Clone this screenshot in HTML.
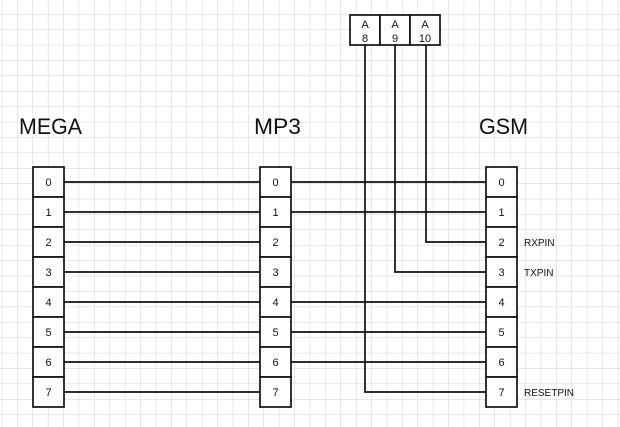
<!DOCTYPE html>
<html><head><meta charset="utf-8"><style>
html,body{margin:0;padding:0;background:#fff;}
svg{display:block;}
text{font-family:"Liberation Sans",sans-serif;fill:#111;}
</style></head><body>
<svg width="620" height="427" viewBox="0 0 620 427" xmlns="http://www.w3.org/2000/svg">
<defs>
<pattern id="g" x="1.7" y="-1.4" width="15.4" height="15.4" patternUnits="userSpaceOnUse">
<path d="M0 0V15.4M0 0H15.4" stroke="#d2d2d2" stroke-width="1" fill="none"/>
</pattern>
</defs>
<rect width="620" height="427" fill="url(#g)"/>
<g font-size="22">
<text x="19" y="134" textLength="63" lengthAdjust="spacingAndGlyphs">MEGA</text>
<text x="254" y="134" textLength="47" lengthAdjust="spacingAndGlyphs">MP3</text>
<text x="479" y="134" textLength="49" lengthAdjust="spacingAndGlyphs">GSM</text>
</g>
<g stroke="#111" stroke-width="1.7" fill="none">
<path d="M64 182H260M64 212H260M64 242H260M64 272H260M64 302H260M64 332H260M64 362H260M64 392H260"/>
<path d="M291 182H486M291 212H486M291 302H486M291 332H486M291 362H486"/>
<path d="M365 45V392H486M395 45V272H486M426 45V242H486"/>
</g>
<g fill="#fff" stroke="#111" stroke-width="1.7">
<rect x="33" y="167" width="31" height="30"/><rect x="33" y="197" width="31" height="30"/><rect x="33" y="227" width="31" height="30"/><rect x="33" y="257" width="31" height="30"/><rect x="33" y="287" width="31" height="30"/><rect x="33" y="317" width="31" height="30"/><rect x="33" y="347" width="31" height="30"/><rect x="33" y="377" width="31" height="30"/>
<rect x="260" y="167" width="31" height="30"/><rect x="260" y="197" width="31" height="30"/><rect x="260" y="227" width="31" height="30"/><rect x="260" y="257" width="31" height="30"/><rect x="260" y="287" width="31" height="30"/><rect x="260" y="317" width="31" height="30"/><rect x="260" y="347" width="31" height="30"/><rect x="260" y="377" width="31" height="30"/>
<rect x="486" y="167" width="31" height="30"/><rect x="486" y="197" width="31" height="30"/><rect x="486" y="227" width="31" height="30"/><rect x="486" y="257" width="31" height="30"/><rect x="486" y="287" width="31" height="30"/><rect x="486" y="317" width="31" height="30"/><rect x="486" y="347" width="31" height="30"/><rect x="486" y="377" width="31" height="30"/>
<rect x="350" y="15" width="30" height="30"/><rect x="380" y="15" width="30" height="30"/><rect x="410" y="15" width="30" height="30"/>
</g>
<g font-size="11" text-anchor="middle">
<text x="48.5" y="186">0</text><text x="48.5" y="216">1</text><text x="48.5" y="246">2</text><text x="48.5" y="276">3</text><text x="48.5" y="306">4</text><text x="48.5" y="336">5</text><text x="48.5" y="366">6</text><text x="48.5" y="396">7</text>
<text x="275.5" y="186">0</text><text x="275.5" y="216">1</text><text x="275.5" y="246">2</text><text x="275.5" y="276">3</text><text x="275.5" y="306">4</text><text x="275.5" y="336">5</text><text x="275.5" y="366">6</text><text x="275.5" y="396">7</text>
<text x="501.5" y="186">0</text><text x="501.5" y="216">1</text><text x="501.5" y="246">2</text><text x="501.5" y="276">3</text><text x="501.5" y="306">4</text><text x="501.5" y="336">5</text><text x="501.5" y="366">6</text><text x="501.5" y="396">7</text>
<text x="365" y="28">A</text><text x="365" y="42">8</text>
<text x="395" y="28">A</text><text x="395" y="42">9</text>
<text x="425" y="28">A</text><text x="425" y="42">10</text>
</g>
<g font-size="10">
<text x="524" y="246">RXPIN</text>
<text x="524" y="276">TXPIN</text>
<text x="524" y="396">RESETPIN</text>
</g>
</svg>
</body></html>
